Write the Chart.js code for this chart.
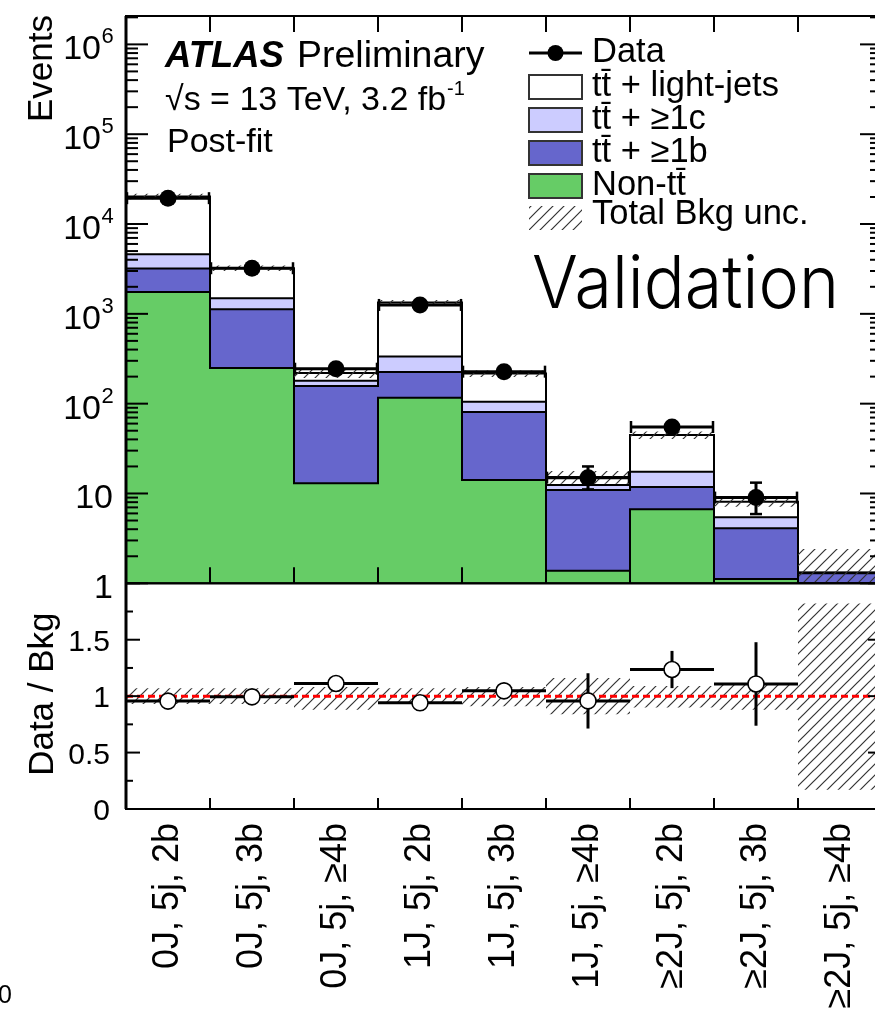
<!DOCTYPE html>
<html>
<head>
<meta charset="utf-8">
<script src="https://cdn.jsdelivr.net/npm/chart.js@4.4.1/dist/chart.umd.min.js"></script>
<style>
html,body{margin:0;padding:0;background:#fff;overflow:hidden;width:875px;height:1014px}
canvas{display:block}
</style>
</head>
<body>
<canvas id="c" width="900" height="1014"></canvas>
<script>
// ---------------- data ----------------
const categories = ['0J, 5j, 2b', '0J, 5j, 3b', '0J, 5j, \u22654b', '1J, 5j, 2b', '1J, 5j, 3b', '1J, 5j, \u22654b', '\u22652J, 5j, 2b', '\u22652J, 5j, 3b', '\u22652J, 5j, \u22654b'];
const nonTtbar    = [1750, 250, 13, 116, 14.1, 1.38, 6.67, 1.12, 0.5];
const ttbar1b     = [1440, 875, 144, 109, 66.9, 9.52, 5.13, 2.98, 0.79];
const ttbar1c     = [1420, 367, 23, 109, 24, 1.5, 5.7, 1.33, 0.02];
const ttbarLight  = [15690, 1728, 40, 1001, 112, 2.9, 27.3, 2.67, 0.01];
const dataEvents  = [19400, 3220, 245, 1256, 227, 15, 55, 9, null];
const dataErrDown = [139, 57, 15.6, 35.4, 15, 3.9, 7.4, 3.1, null];
const dataErrUp   = [140, 58, 16.7, 36.4, 16, 5.0, 8.5, 4.2, null];
const ratioValues = [0.956, 0.994, 1.112, 0.941, 1.047, 0.958, 1.236, 1.108, null];
const ratioErr    = [0.007, 0.018, 0.071, 0.027, 0.07, 0.245, 0.165, 0.37, null];
const bkgUncDown  = [0.93, 0.93, 0.88, 0.93, 0.91, 0.84, 0.90, 0.88, 0.17];
const bkgUncUp    = [1.07, 1.07, 1.08, 1.07, 1.08, 1.16, 1.09, 1.11, 1.82];
const logTickExponents = [0, 1, 2, 3, 4, 5, 6];
const ratioTickValues  = [0, 0.5, 1, 1.5];
const ratioTickLabels  = ['0', '0.5', '1', '1.5'];
const legendLabels = ['Data', 'tt\u0304 + light-jets', 'tt\u0304 + \u22651c', 'tt\u0304 + \u22651b', 'Non-tt\u0304', 'Total Bkg unc.'];

const Y_MIN = 1, Y_MAX = 2.07e6;
const R_MIN = 0, R_MAX = 2;

const COL_GREEN = '#66cc66', COL_BLUE = '#6666cc', COL_LAV = '#ccccff', COL_WHITE = '#ffffff';
const FONT = '"Liberation Sans", Arial, Helvetica, sans-serif';

// ---------------- derived tables for the library ----------------
const cumNon = nonTtbar.slice();
const cumB = cumNon.map((v, i) => v + ttbar1b[i]);
const cumC = cumB.map((v, i) => v + ttbar1c[i]);
const cumTot = cumC.map((v, i) => v + ttbarLight[i]);
const atLeastMin = v => Math.max(v, Y_MIN);
function steps(vals) {
  const pts = vals.map((v, i) => ({x: i, y: v}));
  pts.push({x: vals.length, y: vals[vals.length - 1]});
  return pts;
}

function makeHatch(sp, color, lw) {
  const c = document.createElement('canvas');
  c.width = sp; c.height = sp;
  const g = c.getContext('2d');
  g.strokeStyle = color; g.lineWidth = lw;
  g.beginPath();
  g.moveTo(0, sp); g.lineTo(sp, 0);
  g.moveTo(-sp / 2, sp / 2); g.lineTo(sp / 2, -sp / 2);
  g.moveTo(sp / 2, sp * 1.5); g.lineTo(sp * 1.5, sp / 2);
  g.stroke();
  return g.createPattern(c, 'repeat');
}
const hatch = makeHatch(11, '#333333', 1.2);

const NONE = 'rgba(0,0,0,0)';
const stepBase = {xAxisID: 'x', stepped: true, pointRadius: 0, pointHoverRadius: 0, tension: 0};

const datasets = [
  {label: 'Data', type: 'line', xAxisID: 'x', yAxisID: 'y', showLine: false,
   data: dataEvents.map((v, i) => v == null ? null : {x: i + 0.5, y: v}).filter(Boolean),
   pointRadius: 8.5, pointBackgroundColor: '#000', pointBorderColor: '#000', pointBorderWidth: 0},
  {label: 'Data / Bkg', type: 'line', xAxisID: 'x', yAxisID: 'yr', showLine: false,
   data: ratioValues.map((v, i) => v == null ? null : {x: i + 0.5, y: v}).filter(Boolean),
   pointRadius: 8, pointBackgroundColor: '#fff', pointBorderColor: '#000', pointBorderWidth: 1.6},
  {label: 'unity', type: 'line', xAxisID: 'x', yAxisID: 'yr', data: [{x: 0, y: 1}, {x: categories.length, y: 1}],
   borderColor: '#ff0000', borderWidth: 3, borderDash: [7, 4], pointRadius: 0, fill: false},
  Object.assign({label: 'ratio unc up', yAxisID: 'yr', data: steps(bkgUncUp), borderColor: NONE, borderWidth: 0, fill: '+1', backgroundColor: hatch}, stepBase),
  Object.assign({label: 'ratio unc down', yAxisID: 'yr', data: steps(bkgUncDown), borderColor: NONE, borderWidth: 0, fill: false}, stepBase),
  Object.assign({label: 'bkg unc up', yAxisID: 'y', data: steps(cumTot.map((v, i) => v * bkgUncUp[i])), borderColor: NONE, borderWidth: 0, fill: '+1', backgroundColor: hatch}, stepBase),
  Object.assign({label: 'bkg unc down', yAxisID: 'y', data: steps(cumTot.map((v, i) => atLeastMin(v * bkgUncDown[i]))), borderColor: NONE, borderWidth: 0, fill: false}, stepBase),
  Object.assign({label: legendLabels[4], yAxisID: 'y', data: steps(cumNon.map(atLeastMin)), borderColor: '#000', borderWidth: 2, backgroundColor: COL_GREEN, fill: 'start'}, stepBase),
  Object.assign({label: legendLabels[3], yAxisID: 'y', data: steps(cumB), borderColor: '#000', borderWidth: 2, backgroundColor: COL_BLUE, fill: 'start'}, stepBase),
  Object.assign({label: legendLabels[2], yAxisID: 'y', data: steps(cumC), borderColor: '#000', borderWidth: 2, backgroundColor: COL_LAV, fill: 'start'}, stepBase),
  Object.assign({label: legendLabels[1], yAxisID: 'y', data: steps(cumTot), borderColor: '#000', borderWidth: 2, backgroundColor: COL_WHITE, fill: 'start'}, stepBase)
];

function seg(ctx, x0, y0, x1, y1) { ctx.beginPath(); ctx.moveTo(x0, y0); ctx.lineTo(x1, y1); ctx.stroke(); }

function drawDataErrors(chart) {
  const {ctx, scales: {x, y}} = chart;
  ctx.save(); ctx.strokeStyle = '#000'; ctx.lineCap = 'butt';
  dataEvents.forEach((v, i) => {
    if (v == null) return;
    const x0 = x.getPixelForValue(i), x1 = x.getPixelForValue(i + 1), xc = x.getPixelForValue(i + 0.5);
    const yc = y.getPixelForValue(v);
    ctx.lineWidth = 3; seg(ctx, x0, yc, x1, yc);
    ctx.lineWidth = 2.5; seg(ctx, x0 + 1, yc - 6, x0 + 1, yc + 6); seg(ctx, x1 - 1, yc - 6, x1 - 1, yc + 6);
    const yLo = y.getPixelForValue(v - dataErrDown[i]), yHi = y.getPixelForValue(v + dataErrUp[i]);
    if (yLo - yHi > 17) {
      ctx.lineWidth = 3; seg(ctx, xc, yHi, xc, yLo);
      ctx.lineWidth = 2.5; seg(ctx, xc - 6, yHi, xc + 6, yHi); seg(ctx, xc - 6, yLo, xc + 6, yLo);
    }
  });
  ctx.restore();
}
function drawRatioErrors(chart) {
  const {ctx, scales: {x, yr}} = chart;
  ctx.save(); ctx.strokeStyle = '#000'; ctx.lineWidth = 3;
  ratioValues.forEach((r, i) => {
    if (r == null) return;
    const x0 = x.getPixelForValue(i), x1 = x.getPixelForValue(i + 1), xc = x.getPixelForValue(i + 0.5);
    const yc = yr.getPixelForValue(r);
    seg(ctx, x0, yc, x1, yc);
    seg(ctx, xc, yr.getPixelForValue(r + ratioErr[i]), xc, yr.getPixelForValue(r - ratioErr[i]));
  });
  ctx.restore();
}

const decor = {
  id: 'decor',
  beforeDatasetDraw(chart, args) {
    if (args.index === 0) drawDataErrors(chart);
    if (args.index === 1) drawRatioErrors(chart);
  },
  afterDraw(chart) {
    const {ctx, scales: {x, y, yr}} = chart;
    const L = x.left, R = x.right;
    ctx.save();
    ctx.strokeStyle = '#000'; ctx.fillStyle = '#000';
    // frames
    ctx.lineWidth = 2;
    ctx.strokeRect(L, y.top, R - L, y.bottom - y.top);
    ctx.strokeRect(L, yr.top, R - L, yr.bottom - yr.top);
    ctx.lineWidth = 3; seg(ctx, L, y.top, L, yr.bottom);
    ctx.lineWidth = 2;
    // x ticks at bin edges
    for (let e = 1; e < categories.length; e++) {
      const px = x.getPixelForValue(e);
      seg(ctx, px, y.top, px, y.top + 16);
      seg(ctx, px, y.bottom, px, y.bottom - 16);
      seg(ctx, px, yr.bottom, px, yr.bottom - 11);
    }
    // log ticks
    for (let n = 0; n <= 6; n++) {
      for (let k = 1; k <= 9; k++) {
        const v = k * Math.pow(10, n);
        if (v > Y_MAX) break;
        const py = y.getPixelForValue(v);
        const len = k === 1 ? 22 : 12;
        seg(ctx, L, py, L + len, py);
        seg(ctx, R, py, R - len, py);
      }
    }
    // ratio ticks
    for (let t = 0; t <= 8; t++) {
      const v = t * 0.25;
      const py = yr.getPixelForValue(v);
      const len = t % 2 === 0 ? 14 : 7;
      seg(ctx, L, py, L + len, py);
      seg(ctx, R, py, R - len, py);
    }
    // log tick labels
    ctx.textBaseline = 'alphabetic';
    logTickExponents.forEach(e => {
      const py = y.getPixelForValue(Math.pow(10, e));
      if (e < 2) {
        ctx.font = '34px ' + FONT; ctx.textAlign = 'right';
        ctx.fillText(e === 0 ? '1' : '10', 113, py + 15);
      } else {
        ctx.font = '34px ' + FONT; ctx.textAlign = 'right';
        ctx.fillText('10', 101, py + 15);
        ctx.font = '22px ' + FONT; ctx.textAlign = 'left';
        ctx.fillText(String(e), 101.5, py - 1);
      }
    });
    // ratio labels
    ctx.font = '30px ' + FONT; ctx.textAlign = 'right';
    ratioTickValues.forEach((v, i) => {
      ctx.fillText(ratioTickLabels[i], 110, yr.getPixelForValue(v) + 11);
    });
    // axis titles
    ctx.font = '35px ' + FONT;
    ctx.save(); ctx.translate(52, y.top - 1); ctx.rotate(-Math.PI / 2);
    ctx.textAlign = 'right'; ctx.fillText('Events', 0, 0); ctx.restore();
    ctx.save(); ctx.translate(53, (yr.top + yr.bottom) / 2 - 2); ctx.rotate(-Math.PI / 2);
    ctx.textAlign = 'center'; ctx.fillText('Data / Bkg', 0, 0); ctx.restore();
    // ATLAS label block
    ctx.textAlign = 'left';
    ctx.font = 'italic bold 36.5px ' + FONT; ctx.fillText('ATLAS', 165, 67);
    ctx.font = '37.5px ' + FONT; ctx.fillText('Preliminary', 297, 67);
    ctx.font = '34px ' + FONT;
    const l2 = '\u221As = 13 TeV, 3.2 fb';
    ctx.fillText(l2, 165, 110);
    const w2 = ctx.measureText(l2).width;
    ctx.font = '20px ' + FONT; ctx.fillText('-1', 165 + w2 + 1, 95);
    ctx.font = '34px ' + FONT; ctx.fillText('Post-fit', 167, 152);
    // Validation
    ctx.font = '300 73px Inter, ' + FONT;
    const vw = ctx.measureText('Validation').width;
    ctx.save(); ctx.translate(532, 308); ctx.scale(307 / vw, 1); ctx.fillText('Validation', 0, 0); ctx.restore();
    // legend
    const bx = 529, bw = 53, tx = 592;
    const rowTop = [0, 75, 108, 141, 174, 206];
    const rowBase = [62, 96, 129, 162, 195, 224];
    const fills = [null, COL_WHITE, COL_LAV, COL_BLUE, COL_GREEN, null];
    ctx.strokeStyle = '#000'; ctx.lineWidth = 3; seg(ctx, bx, 53, bx + bw, 53);
    ctx.beginPath(); ctx.arc(bx + bw / 2, 53, 8, 0, Math.PI * 2); ctx.fill();
    for (let r = 1; r <= 4; r++) {
      ctx.fillStyle = fills[r]; ctx.fillRect(bx, rowTop[r], bw, 24);
      ctx.strokeStyle = '#333'; ctx.lineWidth = 2; ctx.strokeRect(bx, rowTop[r], bw, 24);
    }
    ctx.fillStyle = hatch; ctx.fillRect(bx, rowTop[5], bw, 24);
    ctx.fillStyle = '#000'; ctx.font = '34.5px ' + FONT; ctx.textAlign = 'left';
    legendLabels.forEach((lab, r) => ctx.fillText(lab, tx, rowBase[r]));
    // stray label at the bottom-left corner of the picture
    ctx.font = '25px ' + FONT; ctx.fillText('0', -2, 1003);
    ctx.restore();
  }
};

new Chart(document.getElementById('c'), {
  type: 'line',
  data: {datasets},
  options: {
    responsive: false,
    devicePixelRatio: 1,
    animation: false,
    events: [],
    layout: {padding: {top: 16, right: 18, bottom: 0, left: 0}},
    plugins: {legend: {display: false}, tooltip: {enabled: false}, title: {display: false}},
    scales: {
      x: {
        type: 'linear', position: 'bottom', min: 0, max: categories.length,
        grid: {display: false, drawTicks: false}, border: {display: false},
        afterBuildTicks: s => { s.ticks = categories.map((_, i) => ({value: i + 0.5})); },
        ticks: {autoSkip: false, minRotation: 90, maxRotation: 90, padding: 14, color: '#000',
                font: {family: FONT, size: 36}, callback: (v, i) => categories[i]},
        afterFit: s => { s.height = 205; }
      },
      y: {
        type: 'logarithmic', position: 'left', stack: 'panels', stackWeight: 567.3, weight: 1,
        min: Y_MIN, max: Y_MAX,
        grid: {display: false, drawTicks: false}, border: {display: false},
        ticks: {display: false},
        afterFit: s => { s.width = 126; }
      },
      yr: {
        type: 'linear', position: 'left', stack: 'panels', stackWeight: 225.7, weight: 0,
        min: R_MIN, max: R_MAX,
        grid: {display: false, drawTicks: false}, border: {display: false},
        ticks: {display: false},
        afterFit: s => { s.width = 126; }
      }
    }
  },
  plugins: [decor]
});
</script>
</body>
</html>
